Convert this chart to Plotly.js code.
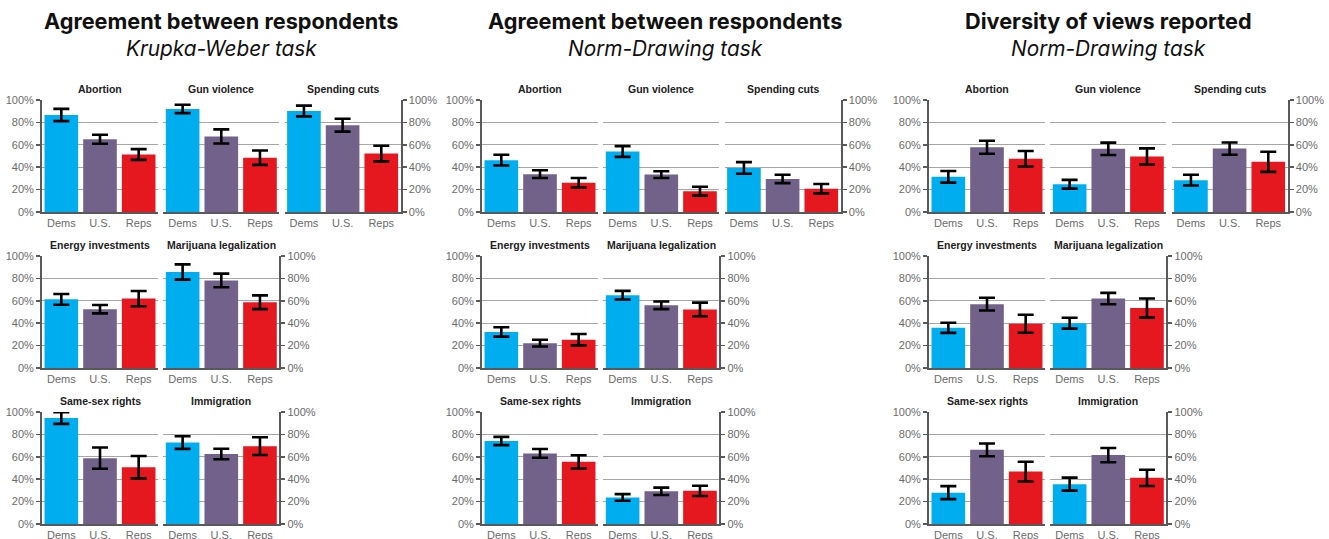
<!DOCTYPE html>
<html>
<head>
<meta charset="utf-8">
<script src="https://cdn.plot.ly/plotly-3.0.1.min.js"></script>
<style>html,body{margin:0;padding:0;background:#fff;}#chart{width:1329px;height:539px;}</style>
</head>
<body>
<div id="chart"></div>
<script>
// ---------- data ----------
const parties = ['Dems', 'U.S.', 'Reps'];
const topics = ['Abortion', 'Gun violence', 'Spending cuts', 'Energy investments',
  'Marijuana legalization', 'Same-sex rights', 'Immigration'];
const panelTitles = ['Agreement between respondents', 'Agreement between respondents', 'Diversity of views reported'];
const panelSubtitles = ['Krupka-Weber task', 'Norm-Drawing task', 'Norm-Drawing task'];
const yTickVals = [0, 20, 40, 60, 80, 100];
const yTickText = ['0%', '20%', '40%', '60%', '80%', '100%'];

// Krupka-Weber agreement (Dems, U.S., Reps) per topic
const kwAgreeValues = [
  [86.6, 65.0, 51.3], [92.0, 67.5, 48.5], [90.2, 77.5, 52.2], [61.3, 52.5, 62.0],
  [85.7, 78.2, 58.7], [94.6, 58.8, 50.7], [72.7, 62.5, 69.5]
];
const kwAgreeErrors = [
  [5.5, 4.0, 4.8], [3.7, 6.3, 6.4], [4.8, 5.7, 7.0], [4.8, 3.7, 6.8],
  [6.8, 6.1, 6.1], [5.2, 9.5, 10.0], [5.6, 4.7, 7.9]
];
// Norm-Drawing agreement
const ndAgreeValues = [
  [46.3, 33.8, 26.1], [54.0, 33.4, 18.6], [39.3, 29.5, 20.8], [32.2, 22.2, 25.3],
  [65.0, 56.0, 52.3], [74.1, 63.0, 55.5], [23.7, 29.2, 29.6]
];
const ndAgreeErrors = [
  [4.8, 3.5, 4.2], [4.8, 3.0, 4.0], [5.2, 3.7, 4.2], [4.2, 3.0, 5.1],
  [3.9, 3.4, 6.1], [3.7, 3.9, 5.9], [3.0, 3.3, 4.6]
];
// Norm-Drawing diversity
const ndDiversityValues = [
  [31.4, 57.8, 47.5], [24.8, 56.4, 49.6], [28.4, 56.6, 44.8], [35.9, 57.0, 39.5],
  [40.0, 62.0, 53.5], [28.0, 66.2, 46.8], [35.6, 61.5, 41.2]
];
const ndDiversityErrors = [
  [5.2, 5.8, 6.9], [3.9, 5.5, 7.2], [4.8, 5.5, 9.0], [4.5, 5.7, 8.0],
  [4.8, 5.1, 8.5], [5.8, 5.7, 8.8], [5.8, 6.4, 7.3]
];

// ---------- styling / layout ----------
const W = 1329, H = 539;
const partyColors = ['#00AEEF', '#726289', '#E5171F'];
const panelValues = [kwAgreeValues, ndAgreeValues, ndDiversityValues];
const panelErrors = [kwAgreeErrors, ndAgreeErrors, ndDiversityErrors];
const rowTopics = [[0, 1, 2], [3, 4], [5, 6]];
const panelLeft = [42, 482, 929];
const panelCenter = [221, 665, 1108];
const colStep = 121.3, subW = 116;
const rowTop = [100, 256, 412], rowBottom = [212, 368, 524];
const axisColor = '#595959', gridColor = '#a6a6a6', tickColor = '#595959';
function tickFont() {
  return {family: 'Liberation Sans, Arial, sans-serif', size: 11, color: '#6b6b6b'};
}

const traces = [];
const layout = {
  width: W, height: H,
  margin: {l: 0, r: 0, t: 0, b: 0},
  paper_bgcolor: '#ffffff', plot_bgcolor: 'rgba(0,0,0,0)',
  showlegend: false, bargap: 0.13,
  annotations: []
};

let k = 0;
for (let p = 0; p < 3; p++) {
  layout.annotations.push({
    xref: 'paper', yref: 'paper', x: panelCenter[p] / W, y: 1 - 21 / H,
    xanchor: 'center', yanchor: 'middle', showarrow: false,
    text: '<b>' + panelTitles[p] + '</b>',
    font: {family: 'Inter, Liberation Sans, sans-serif', size: 21.7, color: '#111111'}
  });
  layout.annotations.push({
    xref: 'paper', yref: 'paper', x: panelCenter[p] / W, y: 1 - 48 / H,
    xanchor: 'center', yanchor: 'middle', showarrow: false,
    text: '<i>' + panelSubtitles[p] + '</i>',
    font: {family: 'Inter, Liberation Sans, sans-serif', size: 20.8, color: '#111111'}
  });
  for (let r = 0; r < 3; r++) {
    const row = rowTopics[r];
    for (let c = 0; c < row.length; c++) {
      k++;
      const t = row[c];
      const xs = k === 1 ? '' : String(k);
      const x0 = panelLeft[p] + c * colStep, x1 = x0 + subW;
      const xd = [x0 / W, x1 / W];
      const yd = [1 - rowBottom[r] / H, 1 - rowTop[r] / H];
      const first = c === 0, last = c === row.length - 1;
      traces.push({
        type: 'bar', x: parties, y: panelValues[p][t],
        xaxis: 'x' + xs, yaxis: 'y' + xs,
        marker: {color: partyColors, line: {width: 0}},
        error_y: {type: 'data', array: panelErrors[p][t], visible: true,
          color: '#000000', thickness: 2.6, width: 8},
        hoverinfo: 'x+y'
      });
      layout['xaxis' + xs] = {
        domain: xd, anchor: 'y' + xs, type: 'category', range: [-0.5, 2.5],
        showline: true, linecolor: axisColor, linewidth: 2, ticks: '',
        showgrid: false, zeroline: false, tickfont: tickFont(), fixedrange: true
      };
      layout['yaxis' + xs] = {
        domain: yd, anchor: 'x' + xs, range: [0, 100],
        tickmode: 'array', tickvals: yTickVals, ticktext: yTickText,
        side: last && !first ? 'right' : 'left',
        showticklabels: first || last,
        ticks: (first || last) ? 'outside' : '', ticklen: 4, tickwidth: 1.5, tickcolor: tickColor,
        showline: first || last, linecolor: axisColor, linewidth: 2,
        showgrid: true, gridcolor: gridColor, gridwidth: 1.3,
        zeroline: false, tickfont: tickFont(), fixedrange: true
      };
      layout.annotations.push({
        xref: 'paper', yref: 'paper', x: (x0 + subW / 2) / W, y: yd[1],
        xanchor: 'center', yanchor: 'bottom', yshift: 3, showarrow: false,
        text: '<b>' + topics[t] + '</b>',
        font: {family: 'Liberation Sans, Arial, sans-serif', size: 10.5, color: '#222222'}
      });
    }
  }
}

Plotly.newPlot('chart', traces, layout, {displayModeBar: false, staticPlot: true});
</script>
</body>
</html>
